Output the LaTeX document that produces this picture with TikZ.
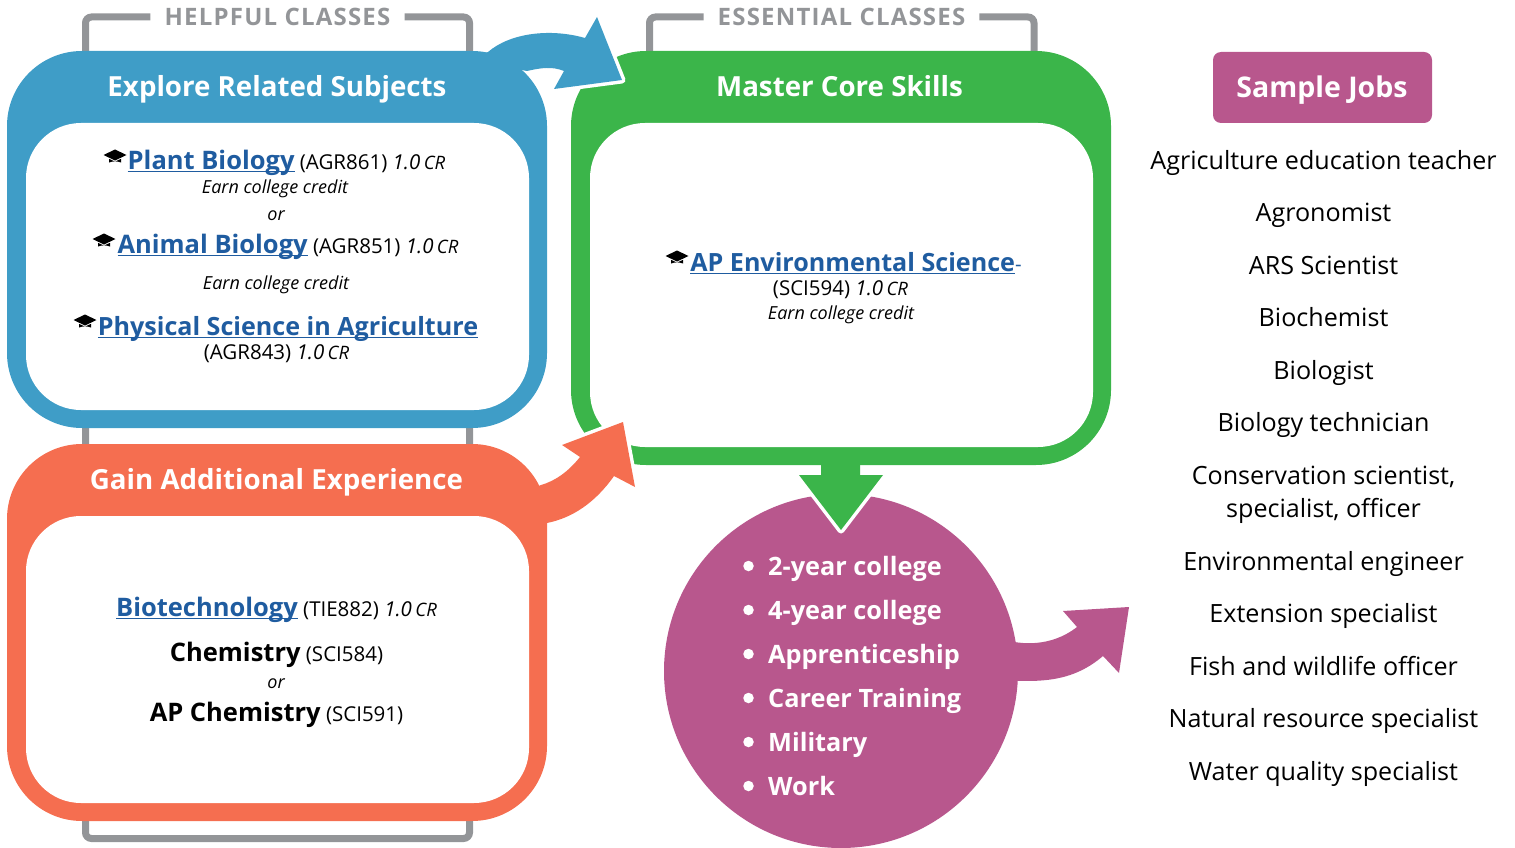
\documentclass[tikz,border=0pt]{standalone}
\usepackage{fontspec}
\setmainfont{Open Sans}
\newfontfamily\spacedfont[LetterSpace=5]{Open Sans}
\usepackage{tikz}
\definecolor{exploreblue}{HTML}{3F9DC7}
\definecolor{coregreen}{HTML}{3BB54A}
\definecolor{gainorange}{HTML}{F56E50}
\definecolor{jobpurple}{HTML}{B8578D}
\definecolor{linkblue}{HTML}{1F5CA0}
\definecolor{bracketgray}{HTML}{939598}
\newsavebox{\linkbox}
\newcommand{\classlink}[1]{\sbox{\linkbox}{\color{linkblue}\bfseries #1}\textcolor{linkblue}{\rlap{\rule[-3pt]{\wd\linkbox}{1.4pt}}}\usebox{\linkbox}}
\newcommand{\creditmark}{\textit{1.0\,{\fontsize{18.5}{18.5}\selectfont CR}}}
\newcommand{\linksize}{\fontsize{25.5}{25.5}\selectfont}
\newcommand{\longlinksize}{\fontsize{25.1}{25.1}\selectfont}
\tikzset{
	bandbox/.style={rounded corners=75pt, inner sep=0pt},
	holebox/.style={rounded corners=55pt, inner sep=0pt, fill=white},
	bandtitle/.style={anchor=base, inner sep=0pt, text=white, font=\fontsize{27.7}{28}\selectfont\bfseries},
	classrow/.style={anchor=base, inner sep=0pt, font=\fontsize{20.5}{20.5}\selectfont},
	noterow/.style={anchor=base, inner sep=0pt, font=\fontsize{18}{18}\selectfont\itshape},
	jobrow/.style={anchor=base, inner sep=0pt, font=\fontsize{25.1}{25.1}\selectfont},
	pathrow/.style={anchor=base west, inner sep=0pt, text=white, font=\fontsize{25.3}{25.3}\selectfont\bfseries},
	pathdot/.style={circle, fill=white, inner sep=0pt, minimum size=10.5pt},
	groupname/.style={inner xsep=14pt, inner ysep=0pt, text=bracketgray, font=\fontsize{24}{24}\spacedfont\bfseries},
	bracket/.style={draw=bracketgray, line width=7pt, rounded corners=6pt},
	outlined/.style={line width=7pt, draw=white, line join=round},
	gradcap/.pic={
		\fill (-11.5,0) -- (0,-5.5) -- (11.5,0) -- (0,5.5) -- cycle;
		\fill (-6,3.8) -- (0,6.6) -- (6,3.8) -- (6,7.5) .. controls (2,6) and (-2,6) .. (-6,7.5) -- cycle;
	}
}
\begin{document}
\begin{tikzpicture}[x=1pt, y=-1pt]
	\useasboundingbox (0,0) rectangle (1515,848);
	% group brackets
	\node[groupname] (helpfulname) at (277.5,17) {HELPFUL CLASSES};
	\node[groupname] (essentialname) at (841.5,17) {ESSENTIAL CLASSES};
	\draw[bracket] (helpfulname.west) -| (85.5,838.5) -| (469.5,17) -- (helpfulname.east);
	\draw[bracket] (essentialname.west) -| (649.5,70);
	\draw[bracket] (essentialname.east) -| (1034,70);
	% outcome circle and its arrows
	\path[fill=jobpurple] (1005,640) .. controls (1020,644) and (1050,648) .. (1077,627) -- (1063,611) -- (1129,607) -- (1119,673) -- (1103,656) .. controls (1075,680) and (1045,683) .. (1005,680) -- cycle;
	\node[circle, fill=jobpurple, inner sep=0pt, minimum size=354pt] (outcome) at (841,671) {};
	\path[fill=coregreen, preaction={outlined}] (821,460) -- (821,475) -- (799,475) -- (841,530) -- (883,475) -- (860,475) -- (860,460) -- cycle;
	% panels
	\node[bandbox, fill=coregreen, minimum width=540pt, minimum height=414pt] (core) at (841,258) {};
	\node[holebox, minimum width=503pt, minimum height=324pt] (corehole) at (841.5,285) {};
	\path[fill=exploreblue, preaction={outlined}] (470,60) -- (488,52) .. controls (510,33) and (550,28) .. (585,38) -- (597,17) -- (622,80) -- (554,89) -- (564,71) .. controls (552,66) and (540,68) .. (527,71) -- cycle;
	\path[fill=gainorange, preaction={outlined}] (530,490) -- (541,485) .. controls (555,481) and (568,472) .. (580,457) -- (562,445) -- (623,422) -- (635,487) -- (614,476) .. controls (595,503) and (572,518) .. (547,523) -- (530,530) -- cycle;
	\node[bandbox, fill=exploreblue, minimum width=540pt, minimum height=377pt] (explore) at (277,239.5) {};
	\node[holebox, minimum width=503pt, minimum height=287pt] (explorehole) at (277.5,266.5) {};
	\node[bandbox, fill=gainorange, minimum width=540pt, minimum height=377pt] (gain) at (277,632.5) {};
	\node[holebox, minimum width=503pt, minimum height=287pt] (gainhole) at (277.5,659.5) {};
	% titles
	\node[bandtitle] (exploretitle) at (277,97) {Explore Related Subjects};
	\node[bandtitle] (coretitle) at (839.5,97) {Master Core Skills};
	\node[bandtitle] (gaintitle) at (276.5,489) {Gain Additional Experience};
	\node[rounded corners=8pt, fill=jobpurple, minimum width=219pt, minimum height=71pt, inner sep=0pt] (jobsbox) at (1322.5,87.5) {};
	\node[bandtitle, font=\fontsize{28.5}{28}\selectfont\bfseries] (jobstitle) at (1322,98) {Sample Jobs};
	% helpful classes
	\pic at (115,155) {gradcap};
	\node[classrow] (plant) at (286.5,169) {{\linksize\classlink{Plant Biology}} (AGR861) \creditmark};
	\node[noterow] (plantnote) at (275,193) {Earn college credit};
	\node[noterow] (plantor) at (276,220) {or};
	\pic at (104,239) {gradcap};
	\node[classrow] (animal) at (288,253) {{\linksize\classlink{Animal Biology}} (AGR851) \creditmark};
	\node[noterow] (animalnote) at (276,289) {Earn college credit};
	\pic at (85,320) {gradcap};
	\node[classrow] (physical) at (288,335) {{\longlinksize\classlink{Physical Science in Agriculture}}};
	\node[classrow] (physicalcode) at (276.5,359) {(AGR843) \creditmark};
	% essential classes
	\pic at (677,256) {gradcap};
	\node[classrow] (apenv) at (856,271) {{\longlinksize\classlink{AP Environmental Science}}\textcolor{linkblue}{-}};
	\node[classrow] (apenvcode) at (840.5,295) {(SCI594) \creditmark};
	\node[noterow] (apenvnote) at (841,319) {Earn college credit};
	% additional experience
	\node[classrow] (biotech) at (276.5,616) {{\linksize\classlink{Biotechnology}} (TIE882) \creditmark};
	\node[classrow] (chem) at (276.5,661) {{\linksize\bfseries Chemistry} (SCI584)};
	\node[noterow] (chemor) at (276,688) {or};
	\node[classrow] (apchem) at (276.5,721) {{\linksize\bfseries AP Chemistry} (SCI591)};
	% pathways
	\foreach \yy/\pathname in {575/2-year college, 619/4-year college, 663/Apprenticeship, 707/Career Training, 751/Military, 795/Work} {
		\node[pathdot] (dot\yy) at (748.5,\yy-9) {};
		\node[pathrow] (path\yy) at (768,\yy) {\pathname};
	}
	% jobs
	\foreach \yy/\jobname in {169/Agriculture education teacher, 221/Agronomist, 274/ARS Scientist, 326/Biochemist, 379/Biologist, 431/Biology technician, 484/{Conservation scientist,}, 517/{specialist, officer}, 570/Environmental engineer, 622/Extension specialist, 675/Fish and wildlife officer, 727/Natural resource specialist, 780/Water quality specialist} {
		\node[jobrow] (job\yy) at (1323.5,\yy) {\jobname};
	}
\end{tikzpicture}
\end{document}
